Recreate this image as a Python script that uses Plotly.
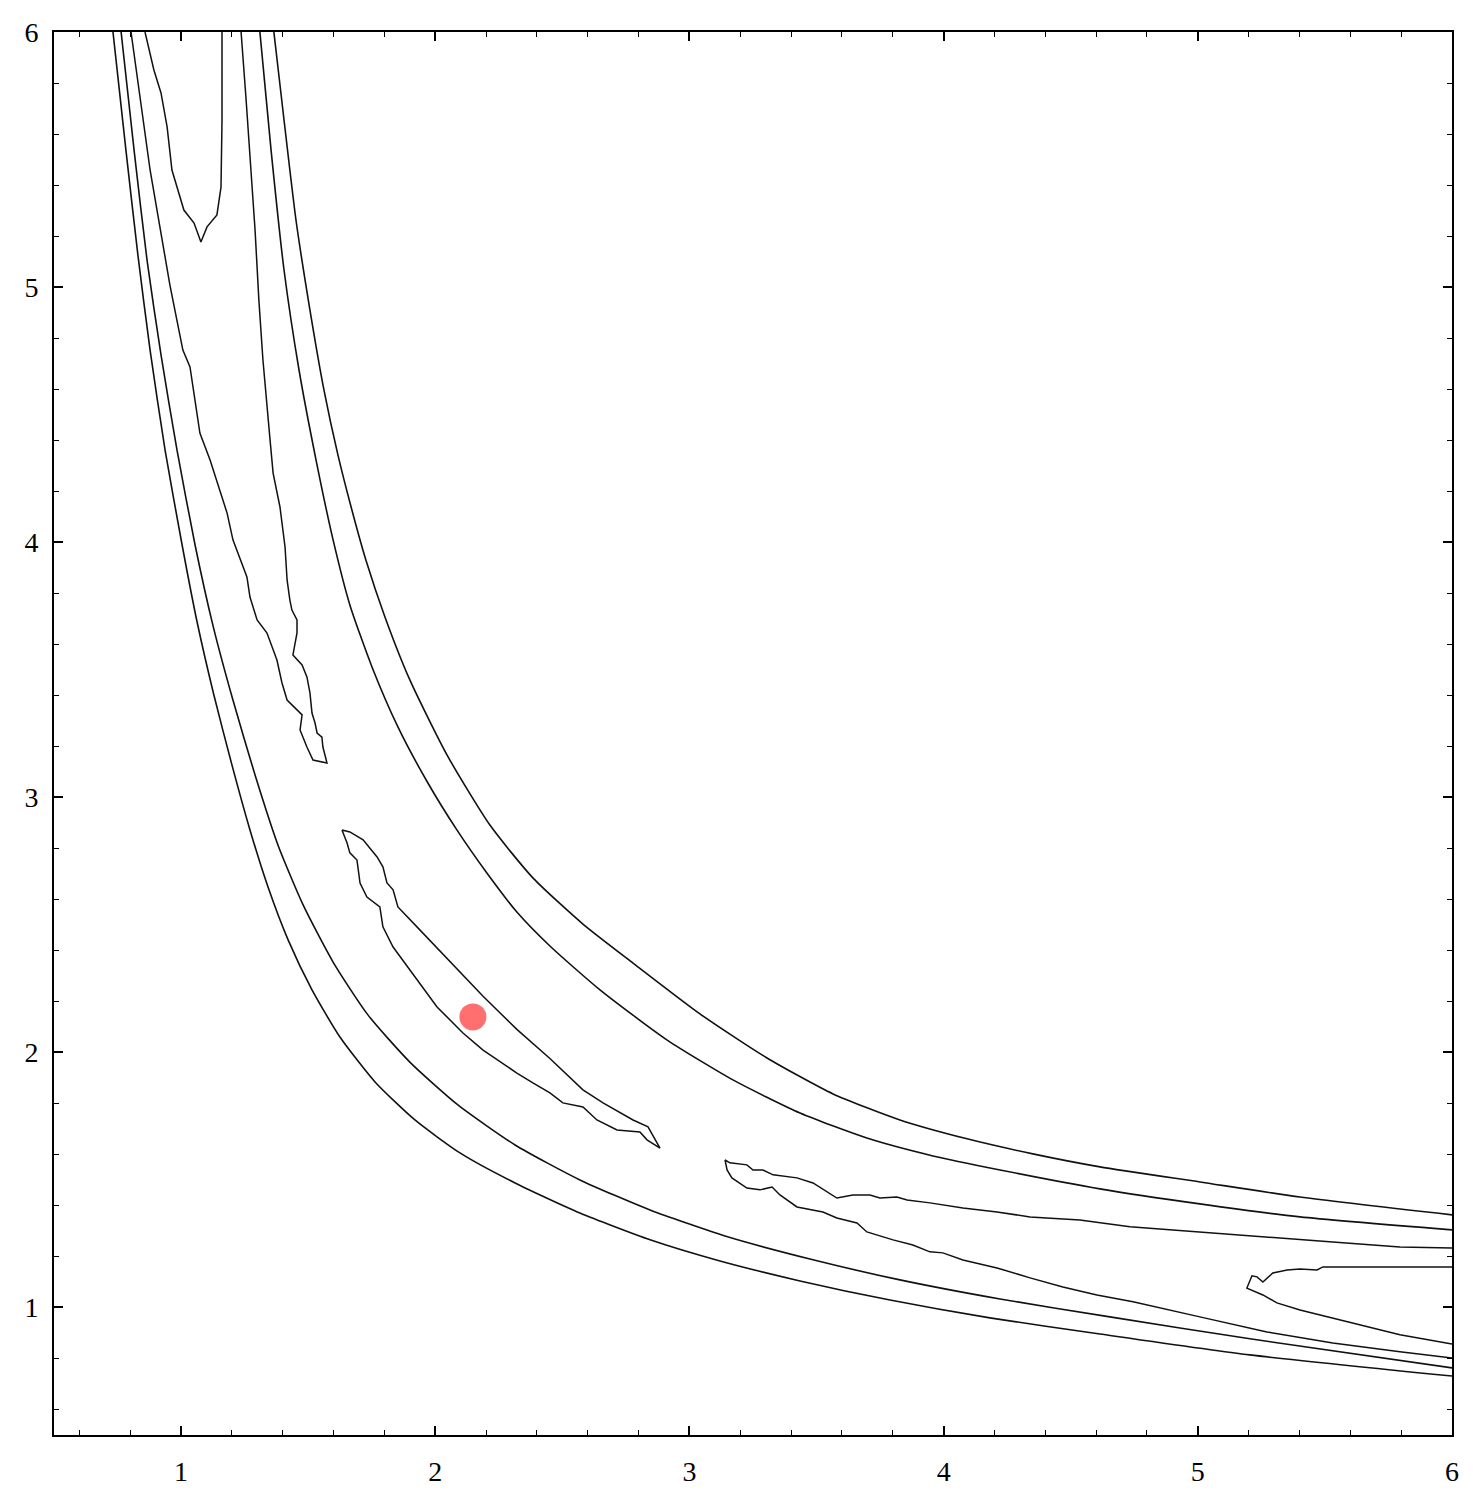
import plotly.graph_objects as go

# ---- contour paths (data coordinates) ----
# outer lower-left contour
l1_x = [0.732, 0.783, 0.830, 0.878, 0.937, 1.004, 1.063, 1.129, 1.200, 1.271, 1.342, 1.421, 1.515, 1.625, 1.763, 1.920, 2.097, 2.314, 2.569, 2.845, 3.120, 3.435, 3.789, 4.182, 4.615, 5.205, 6.0]
l1_y = [6.0, 5.537, 5.126, 4.753, 4.361, 3.989, 3.687, 3.401, 3.127, 2.872, 2.648, 2.441, 2.245, 2.060, 1.884, 1.735, 1.606, 1.488, 1.370, 1.265, 1.182, 1.104, 1.029, 0.959, 0.896, 0.814, 0.731]
# second lower-left contour
l2_x = [0.764, 0.815, 0.866, 0.921, 0.984, 1.055, 1.125, 1.204, 1.291, 1.381, 1.480, 1.598, 1.735, 1.900, 2.089, 2.314, 2.569, 2.845, 3.140, 3.474, 3.828, 4.222, 4.654, 5.205, 6.0]
l2_y = [6.0, 5.537, 5.106, 4.734, 4.361, 3.989, 3.675, 3.381, 3.087, 2.813, 2.578, 2.354, 2.147, 1.962, 1.794, 1.637, 1.500, 1.382, 1.280, 1.190, 1.108, 1.033, 0.963, 0.877, 0.763]
# inner upper-right contour
u1_x = [1.310, 1.354, 1.405, 1.464, 1.531, 1.598, 1.664, 1.751, 1.853, 1.971, 2.085, 2.203, 2.321, 2.451, 2.648, 2.911, 3.171, 3.435, 3.698, 3.958, 4.222, 4.615, 5.008, 5.402, 6.0]
u1_y = [6.0, 5.537, 5.067, 4.675, 4.322, 4.009, 3.754, 3.511, 3.276, 3.056, 2.872, 2.703, 2.550, 2.417, 2.245, 2.049, 1.892, 1.762, 1.664, 1.594, 1.539, 1.465, 1.406, 1.355, 1.304]
# outer upper-right contour
u2_x = [1.365, 1.405, 1.452, 1.507, 1.562, 1.617, 1.672, 1.727, 1.802, 1.900, 2.046, 2.215, 2.384, 2.581, 2.778, 3.041, 3.305, 3.565, 3.828, 4.092, 4.351, 4.615, 5.008, 5.402, 6.0]
u2_y = [6.0, 5.655, 5.263, 4.910, 4.597, 4.342, 4.126, 3.930, 3.707, 3.460, 3.166, 2.891, 2.684, 2.503, 2.350, 2.151, 1.978, 1.837, 1.735, 1.661, 1.602, 1.551, 1.492, 1.433, 1.363]
# large tongue hanging from the top edge
t1_x = [0.803, 0.878, 0.956, 0.968, 1.007, 1.035, 1.074, 1.114, 1.181, 1.204, 1.224, 1.259, 1.271, 1.299, 1.338, 1.377, 1.397, 1.417, 1.476, 1.468, 1.495, 1.519, 1.574,
        1.558, 1.554, 1.535, 1.527, 1.515, 1.507, 1.495, 1.476, 1.440, 1.456, 1.456, 1.436, 1.428, 1.417, 1.409, 1.389, 1.362, 1.350, 1.322, 1.306, 1.291, 1.255, 1.236]
t1_y = [6.0, 5.459, 5.008, 4.949, 4.753, 4.687, 4.428, 4.322, 4.114, 4.009, 3.958, 3.864, 3.785, 3.695, 3.644, 3.538, 3.448, 3.381, 3.323, 3.264, 3.197, 3.146, 3.134,
        3.197, 3.236, 3.252, 3.291, 3.330, 3.409, 3.472, 3.519, 3.558, 3.644, 3.695, 3.734, 3.773, 3.852, 3.981, 4.138, 4.271, 4.401, 4.714, 4.949, 5.224, 5.745, 6.0]
# small tongue at the top edge
t2_x = [0.858, 0.893, 0.921, 0.945, 0.964, 1.011, 1.051, 1.078, 1.102, 1.141, 1.157, 1.161, 1.161]
t2_y = [6.0, 5.851, 5.761, 5.628, 5.459, 5.302, 5.251, 5.177, 5.236, 5.283, 5.392, 5.655, 6.0]
# central island
is_x = [1.633, 1.664, 1.716, 1.771, 1.794, 1.810, 1.834, 1.853, 1.928, 2.058, 2.188, 2.321, 2.451, 2.581, 2.660, 2.778, 2.837, 2.884,
        2.833, 2.805, 2.715, 2.636, 2.581, 2.502, 2.451, 2.384, 2.321, 2.188, 2.109, 2.007, 1.900, 1.834, 1.794, 1.782, 1.731, 1.704, 1.692, 1.664, 1.653, 1.633]
is_y = [2.872, 2.864, 2.833, 2.766, 2.727, 2.664, 2.637, 2.570, 2.492, 2.355, 2.220, 2.090, 1.976, 1.853, 1.802, 1.735, 1.708, 1.625,
        1.657, 1.688, 1.696, 1.735, 1.786, 1.802, 1.841, 1.880, 1.919, 2.009, 2.076, 2.178, 2.323, 2.413, 2.492, 2.570, 2.609, 2.664, 2.754, 2.782, 2.821, 2.872]
# large tongue reaching in from the right edge
r1_x = [6.0, 5.795, 5.531, 5.272, 5.008, 4.733, 4.536, 4.340, 4.210, 4.076, 3.946, 3.856, 3.816, 3.749, 3.710, 3.643, 3.580, 3.486, 3.423, 3.329, 3.289, 3.250, 3.226, 3.159, 3.140,
        3.148, 3.167, 3.226, 3.277, 3.325, 3.356, 3.423, 3.525, 3.580, 3.659, 3.698, 3.801, 3.879, 3.946, 3.997, 4.076, 4.210, 4.340, 4.469, 4.603, 4.745, 5.008, 5.272, 5.531, 5.795, 6.0]
r1_y = [1.233, 1.237, 1.257, 1.276, 1.296, 1.316, 1.343, 1.355, 1.374, 1.390, 1.410, 1.421, 1.433, 1.429, 1.441, 1.441, 1.429, 1.488, 1.508, 1.520, 1.539, 1.539, 1.559, 1.567, 1.578,
        1.539, 1.508, 1.468, 1.461, 1.472, 1.441, 1.394, 1.374, 1.351, 1.331, 1.296, 1.265, 1.245, 1.218, 1.214, 1.186, 1.155, 1.116, 1.080, 1.049, 1.022, 0.963, 0.904, 0.861, 0.826, 0.802]
# small tongue at the right edge
r2_x = [6.0, 5.795, 5.598, 5.492, 5.469, 5.402, 5.351, 5.295, 5.256, 5.233, 5.213, 5.193, 5.256, 5.311, 5.402, 5.531, 5.665, 5.795, 6.0]
r2_y = [1.159, 1.159, 1.159, 1.159, 1.147, 1.151, 1.147, 1.135, 1.100, 1.120, 1.124, 1.076, 1.049, 1.018, 0.990, 0.959, 0.924, 0.893, 0.857]
# highlighted point
pt_x = [2.148]
pt_y = [2.139]

tick_vals = [1, 2, 3, 4, 5, 6]
tick_text = ["1", "2", "3", "4", "5", "6"]

smooth_paths = [(l1_x, l1_y), (l2_x, l2_y), (u1_x, u1_y), (u2_x, u2_y)]
rough_paths = [(t1_x, t1_y), (t2_x, t2_y), (is_x, is_y), (r1_x, r1_y), (r2_x, r2_y)]

fig = go.Figure()
for xs, ys in smooth_paths:
    fig.add_trace(go.Scatter(x=xs, y=ys, mode="lines",
                             line=dict(color="#111111", width=1.6, shape="spline", smoothing=0.6),
                             hoverinfo="skip", showlegend=False))
for xs, ys in rough_paths:
    fig.add_trace(go.Scatter(x=xs, y=ys, mode="lines",
                             line=dict(color="#111111", width=1.5),
                             hoverinfo="skip", showlegend=False))
fig.add_trace(go.Scatter(x=pt_x, y=pt_y, mode="markers",
                         marker=dict(size=27, color="#ff6f6f", line=dict(width=0)),
                         hoverinfo="skip", showlegend=False))

axis_common = dict(
    showgrid=False, zeroline=False, showline=True, linecolor="black", linewidth=2,
    mirror="allticks", ticks="inside", ticklen=9, tickwidth=1.5, tickcolor="black",
    tickvals=tick_vals, ticktext=tick_text,
    minor=dict(ticks="inside", ticklen=5, tickwidth=1, tickcolor="black", dtick=0.2, tick0=0, showgrid=False),
    tickfont=dict(family="Liberation Serif, Times New Roman, serif", size=28, color="black"),
)

fig.update_layout(
    width=1482, height=1509,
    margin=dict(l=54, r=30, t=32, b=74),
    paper_bgcolor="white", plot_bgcolor="white",
    xaxis=dict(range=[0.5, 6], ticklabelstandoff=10, **axis_common),
    yaxis=dict(range=[0.5, 6], ticklabelstandoff=8, **axis_common),
)

fig.write_html("out.html", config={"displayModeBar": False},
               post_script="document.body.style.margin='0';document.body.style.overflow='hidden';")
